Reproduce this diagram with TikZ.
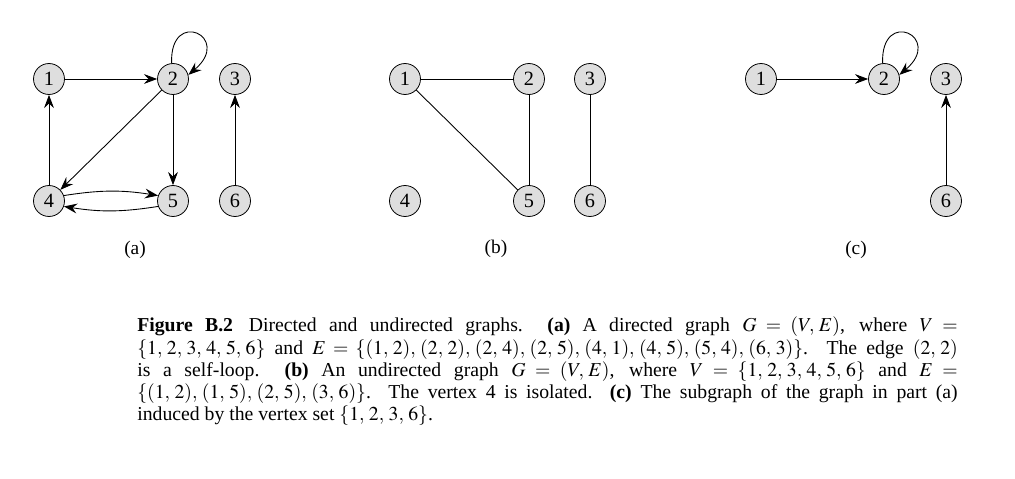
\documentclass[tikz,border=0pt]{standalone}
\usepackage{mathptmx}
\usepackage{fontspec}
\setmainfont{Liberation Serif}[Ligatures=TeX]
\usetikzlibrary{arrows.meta}
\newcommand\sep{,\,}
\tikzset{
  vtx/.style={circle, draw=black, line width=0.45pt, fill=black!13, minimum size=17.6pt, inner sep=0pt, font=\fontsize{11.5}{12}\selectfont},
  arr/.style={line width=0.5pt, -{Stealth[length=7.5pt, width=5.6pt, inset=2.6pt]}},
  ud/.style={line width=0.5pt},
  sublabel/.style={font=\fontsize{11}{12}\selectfont},
  captionbox/.style={anchor=base west, inner sep=0pt, text width=466pt, align=justify, font=\fontsize{11.2}{12.67}\selectfont}
}
\begin{document}
\begin{tikzpicture}[x=0.568pt, y=0.568pt]
\useasboundingbox (0,0) rectangle (1015,478);
% (a)
\node[vtx] (a1) at (49,399) {1};
\node[vtx] (a2) at (173,399) {2};
\node[vtx] (a3) at (235,399) {3};
\node[vtx] (a4) at (49,277) {4};
\node[vtx] (a5) at (173,277) {5};
\node[vtx] (a6) at (235,277) {6};
\draw[arr] (a1) -- (a2);
\draw[arr] (a2.95) .. controls +(-2,56) and +(45,38) .. (a2.15);
\draw[arr] (a2) -- (a4);
\draw[arr] (a2) -- (a5);
\draw[arr] (a4) -- (a1);
\draw[arr] (a4.20) to[bend left=9] (a5.160);
\draw[arr] (a5.200) to[bend left=9] (a4.340);
\draw[arr] (a6) -- (a3);
\node[sublabel] (la) at (135,228) {(a)};
% (b)
\node[vtx] (b1) at (405,399) {1};
\node[vtx] (b2) at (529,399) {2};
\node[vtx] (b3) at (590,399) {3};
\node[vtx] (b4) at (405,277) {4};
\node[vtx] (b5) at (529,277) {5};
\node[vtx] (b6) at (590,277) {6};
\draw[ud] (b1) -- (b2);
\draw[ud] (b1) -- (b5);
\draw[ud] (b2) -- (b5);
\draw[ud] (b3) -- (b6);
\node[sublabel] (lb) at (496,229) {(b)};
% (c)
\node[vtx] (c1) at (761,399) {1};
\node[vtx] (c2) at (884,399) {2};
\node[vtx] (c3) at (946,399) {3};
\node[vtx] (c6) at (946,277) {6};
\draw[arr] (c1) -- (c2);
\draw[arr] (c2.95) .. controls +(-2,56) and +(45,38) .. (c2.15);
\draw[arr] (c6) -- (c3);
\node[sublabel] (lc) at (856,228) {(c)};
% caption
\node[captionbox] (cap) at (137,146.3) {\textbf{Figure B.2}\hspace{0.8em}Directed and undirected graphs.\ \ \textbf{(a)} A directed graph $G=(V\sep E)$, where $V=$\linebreak
$\{1\sep 2\sep 3\sep 4\sep 5\sep 6\}$ and $E=\{(1\sep 2)\sep(2\sep 2)\sep(2\sep 4)\sep(2\sep 5)\sep(4\sep 1)\sep(4\sep 5)\sep(5\sep 4)\sep(6\sep 3)\}$.\ \ The edge $(2\sep 2)$\linebreak
is a self-loop.\ \ \textbf{(b)} An undirected graph $G=(V\sep E)$, where $V=\{1\sep 2\sep 3\sep 4\sep 5\sep 6\}$ and $E=$\linebreak
$\{(1\sep 2)\sep(1\sep 5)\sep(2\sep 5)\sep(3\sep 6)\}$.\ \ The vertex 4 is isolated.\ \ \textbf{(c)} The subgraph of the graph in part (a)\linebreak
induced by the vertex set $\{1\sep 2\sep 3\sep 6\}$.};
\end{tikzpicture}
\end{document}
